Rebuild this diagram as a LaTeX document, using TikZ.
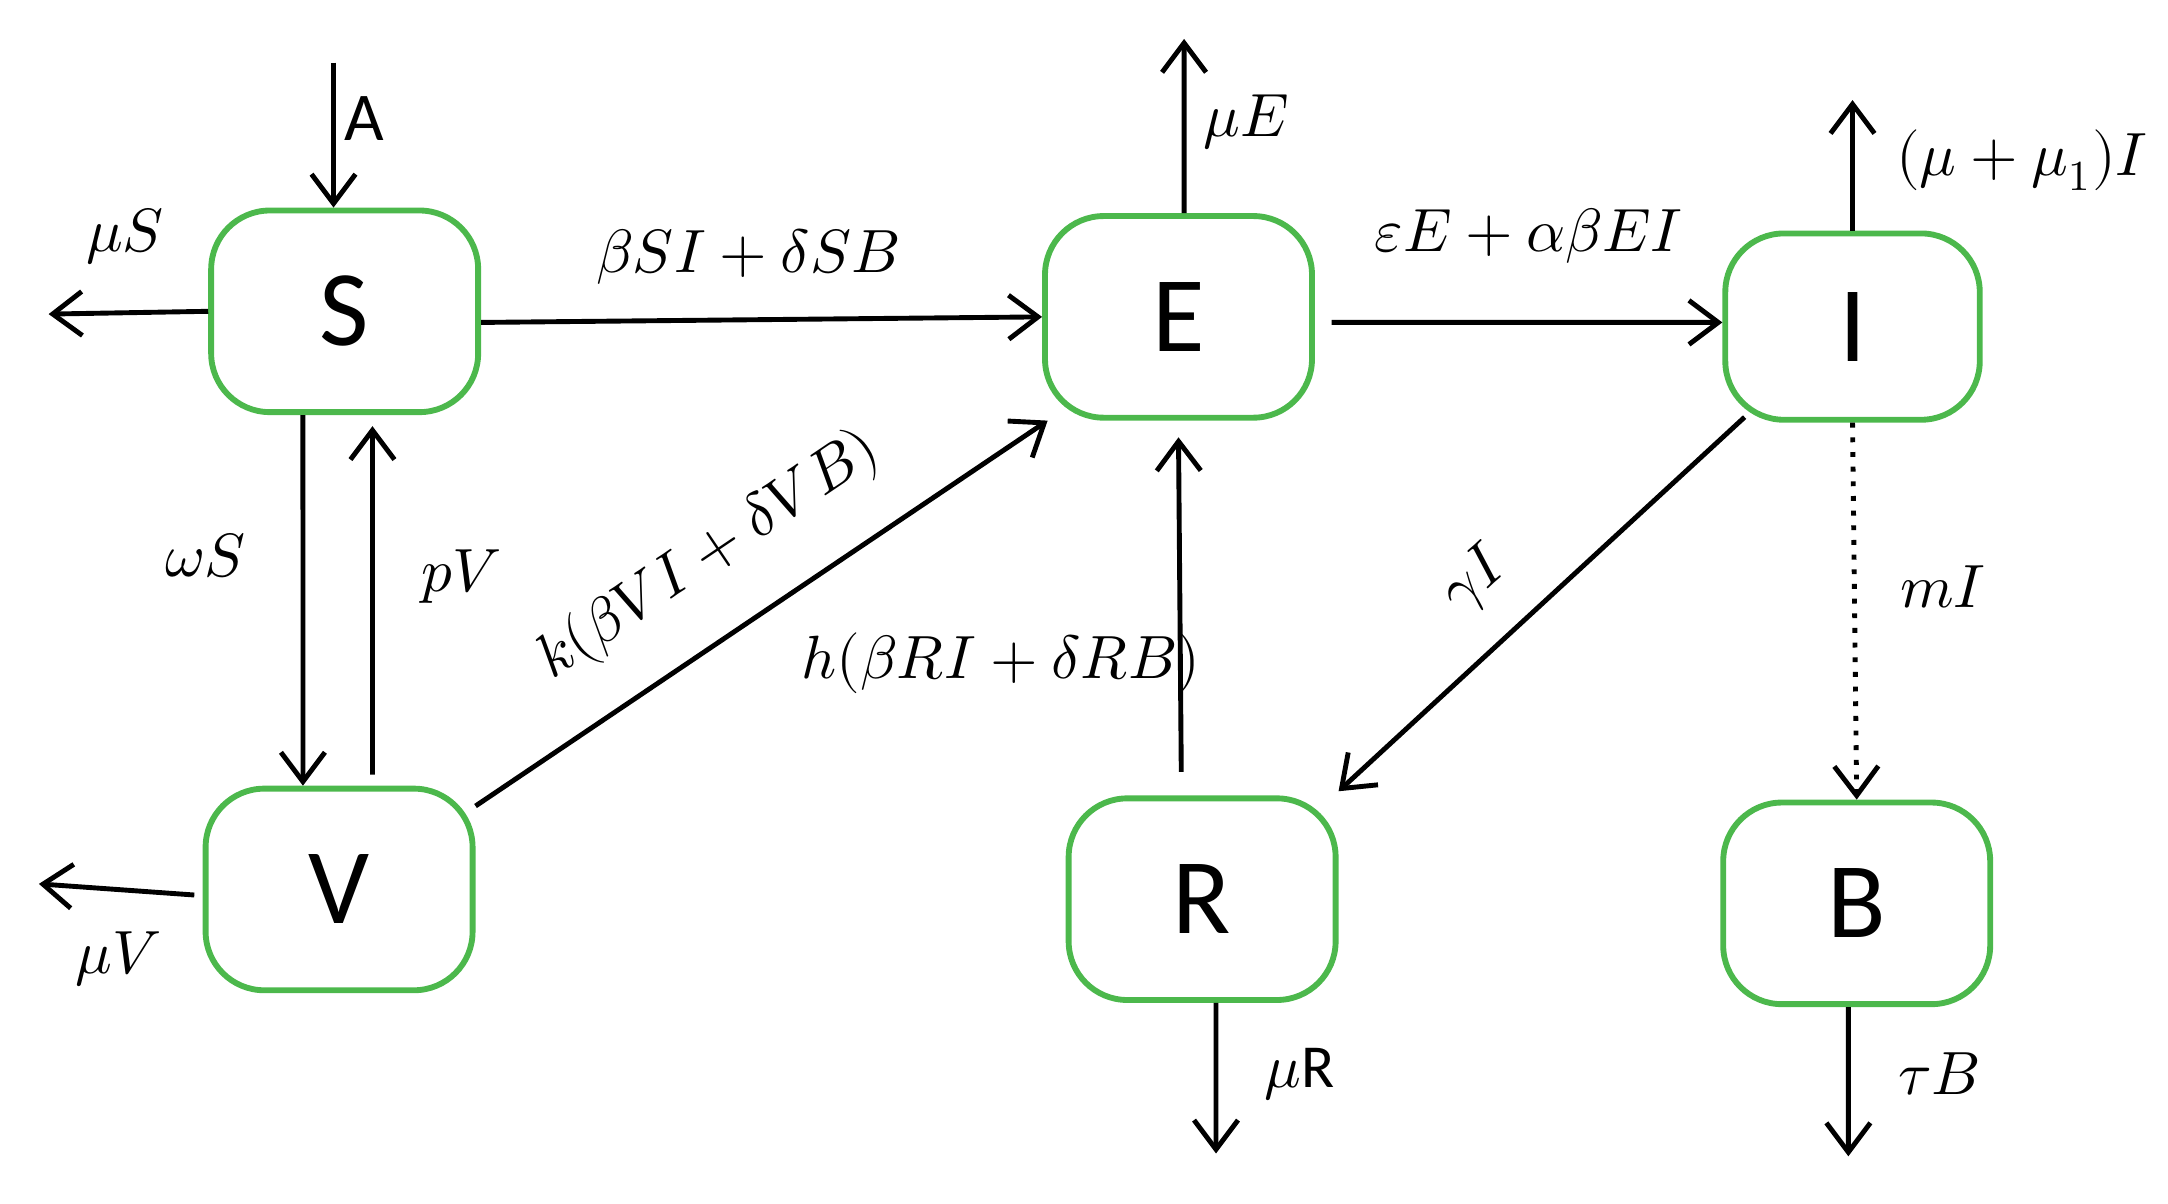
\documentclass[tikz,border=0pt]{standalone}
\usepackage{fontspec}
\setmainfont{Carlito}
\usepackage{unicode-math}
\usetikzlibrary{arrows.meta}
\begin{document}
\begin{tikzpicture}[x=0.01cm,y=-0.01cm,
  box/.style={draw=green!60!black!70!white,line width=1.2pt,rounded corners=12pt,minimum width=1.92cm,minimum height=1.45cm,font=\fontsize{22}{26}\selectfont},
  arr/.style={-{Straight Barb[length=6pt,width=9pt]},line width=1pt},
  lab/.style={font=\fontsize{12.5}{15}\selectfont}]
\useasboundingbox (0,0) rectangle (1560,866);
\node[box] (S) at (248,224) {S};
\node[box] (E) at (848,228) {E};
\node[box,minimum width=1.83cm,minimum height=1.34cm] (I) at (1333,235) {I};
\node[box] (V) at (244,640) {V};
\node[box] (R) at (865,647) {R};
\node[box] (B) at (1336,650) {B};
\coordinate (a0) at (240,45);
\coordinate (mS) at (35,226);
\coordinate (mE) at (852,28);
\coordinate (mI) at (1333,72);
\coordinate (mV) at (28,636);
\coordinate (mR) at (875,830);
\coordinate (tB) at (1330,832);
\draw[arr] (a0) -- (a0 |- S.north);
\node[font=\fontsize{14}{16}\selectfont] (lA) at (262,85) {A};
\draw[arr] (S.west) -- (mS);
\node[lab] (lS) at (90,170) {$\mu S$};
\draw[arr] ([yshift=-0.08cm]S.east) -- ([yshift=0cm]E.west);
\node[lab] (lSE) at (538,185) {$\beta SI+\delta SB$};
\draw[arr] ([xshift=0.04cm]E.north) -- (mE);
\node[lab] (lE) at (897,88) {$\mu E$};
\draw[arr] ([xshift=0.12cm,yshift=-0.04cm]E.east) -- ([yshift=0.03cm]I.west);
\node[lab] (lEI) at (1100,170) {$\varepsilon E+\alpha\beta EI$};
\draw[arr] (I.north) -- (mI);
\node[lab] (lI) at (1455,115) {$(\mu+\mu_1)I$};
\draw[arr] ([xshift=-0.3cm]S.south) -- ([xshift=-0.26cm]V.north);
\node[lab] (lw) at (148,400) {$\omega S$};
\draw[arr] ([xshift=0.24cm,yshift=0.08cm]V.north) -- ([xshift=0.2cm,yshift=-0.08cm]S.south);
\node[lab] (lp) at (332,415) {$pV$};
\draw[arr] ([yshift=0.6cm]V.east) -- ([xshift=0.04cm]E.south west);
\node[lab,rotate=34] (lk) at (510,400) {$k(\beta VI+\delta VB)$};
\draw[arr] ([xshift=-0.15cm,yshift=0.17cm]R.north) -- ([yshift=-0.12cm]E.south);
\node[lab] (lh) at (720,477) {$h(\beta RI+\delta RB)$};
\draw[arr] ([xshift=0.16cm,yshift=0.04cm]I.south west) -- ([yshift=0.03cm]R.north east);
\node[lab,rotate=42] (lg) at (1062,418) {$\gamma I$};
\draw[arr,dotted] (I.south) -- (B.north);
\node[lab] (lm) at (1398,422) {$mI$};
\draw[arr] ([xshift=-0.06cm,yshift=-0.04cm]V.west) -- (mV);
\node[lab] (lV) at (85,690) {$\mu V$};
\draw[arr] ([xshift=0.1cm]R.south) -- (mR);
\node[lab] (lR) at (935,773) {$\mu$R};
\draw[arr] ([xshift=-0.06cm]B.south) -- (tB);
\node[lab] (lB) at (1395,773) {$\tau B$};
\end{tikzpicture}
\end{document}
